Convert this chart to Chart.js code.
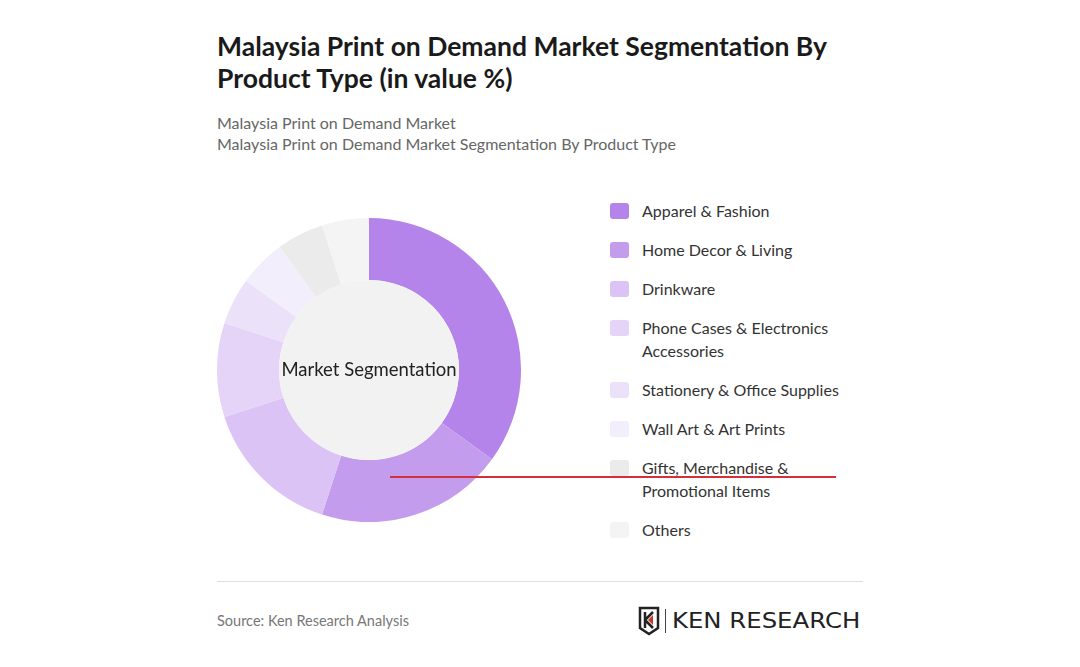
<!DOCTYPE html>
<html>
<head>
<meta charset="utf-8">
<script src="https://cdn.jsdelivr.net/npm/chart.js@4"></script>
<style>
  body { margin: 0; background: #fff; font-family: Lato, "Open Sans", sans-serif; }
  #page { position: relative; width: 1080px; height: 667px; overflow: hidden; }
  #titulo { position: absolute; left: 217px; top: 30px; width: 660px; font-size: 26.5px; font-weight: bold; line-height: 32px; color: #1a1a1a; }
  #sub { position: absolute; left: 217px; top: 112px; font-size: 16px; line-height: 21px; color: #666; }
  #donaBox { position: absolute; left: 217px; top: 218px; width: 304px; height: 304px; }
  #leyenda { position: absolute; left: 610px; top: 199px; }
  .item { display: flex; align-items: flex-start; margin-bottom: 16px; }
  .cuadro { width: 19px; height: 16px; border-radius: 3px; margin-top: 4px; margin-right: 13px; flex: none; }
  .txt { width: 225px; font-size: 16px; line-height: 23px; color: #333; }
  #sep { position: absolute; left: 217px; top: 581px; width: 646px; height: 1px; background: #ddd; }
  #fuente { position: absolute; left: 217px; top: 612px; font-size: 14.5px; color: #777; }
  #logo { position: absolute; left: 638px; top: 606px; display: flex; align-items: center; }
  #logo span { font-family: "DejaVu Sans", sans-serif; font-size: 21px; color: #222; display: inline-block; transform: scaleX(1.16); transform-origin: left center; }
  #rayita { position: absolute; left: 390px; top: 476px; width: 446px; height: 1.5px; background: #d3303c; }
</style>
</head>
<body>
<div id="page">
  <div id="titulo">Malaysia Print on Demand Market Segmentation By Product Type (in value %)</div>
  <div id="sub">Malaysia Print on Demand Market<br>Malaysia Print on Demand Market Segmentation By Product Type</div>
  <div id="donaBox"><canvas id="chartTipos" width="304" height="304"></canvas></div>
  <div id="leyenda"></div>
  <div id="sep"></div>
  <div id="fuente">Source: Ken Research Analysis</div>
  <div id="logo">
    <svg width="24" height="30" viewBox="0 0 24 30">
      <path d="M2 2 H20 V22 L11 28 L2 22 Z" fill="none" stroke="#222" stroke-width="2.5"/>
      <path d="M7 6 V22 M7 14 L15 6 M7 14 L15 22" stroke="#222" stroke-width="2.5" fill="none"/>
      <path d="M10 14 L15 9 V19 Z" fill="#c0392b"/>
    </svg>
    <div style="width:1px;height:24px;background:#444;margin:0 6px 0 3px"></div>
    <span>KEN RESEARCH</span>
  </div>
  <div id="rayita"></div>
</div>
<script>
  // datos del gráfico
  const categorias = ["Apparel & Fashion", "Home Decor & Living", "Drinkware", "Phone Cases & Electronics Accessories",
    "Stationery & Office Supplies", "Wall Art & Art Prints", "Gifts, Merchandise & Promotional Items", "Others"];
  const valores = [35, 20, 15, 10, 5, 5, 5, 5];
  const colores = ["#b584ea", "#c49cee", "#dbc3f6", "#e5d3f8", "#ebe2fa", "#f2eefb", "#ebebeb", "#f4f4f4"];

  // círculo central con texto
  const centro = {
    id: "centro",
    afterDatasetsDraw(chart) {
      const arc = chart.getDatasetMeta(0).data[0];
      const ctx = chart.ctx;
      ctx.save();
      ctx.beginPath();
      ctx.arc(arc.x, arc.y, arc.innerRadius, 0, Math.PI * 2);
      ctx.fillStyle = "#f2f2f2";
      ctx.fill();
      ctx.fillStyle = "#222";
      ctx.font = "18.5px Lato";
      ctx.textAlign = "center";
      ctx.textBaseline = "middle";
      ctx.fillText("Market Segmentation", arc.x, arc.y);
      ctx.restore();
    }
  };

  new Chart(document.getElementById("chartTipos"), {
    type: "doughnut",
    data: {
      labels: categorias,
      datasets: [{
        data: valores,
        backgroundColor: colores,
        borderWidth: 0
      }]
    },
    options: {
      responsive: false,
      animation: false,
      devicePixelRatio: 1,
      cutout: 90,
      plugins: { legend: { display: false }, tooltip: { enabled: false } }
    },
    plugins: [centro]
  });

  // leyenda
  const lista = document.getElementById("leyenda");
  categorias.forEach((c, i) => {
    const div = document.createElement("div");
    div.className = "item";
    div.innerHTML = `<div class="cuadro" style="background:${colores[i]}"></div><div class="txt"></div>`;
    div.querySelector(".txt").textContent = c;
    lista.appendChild(div);
  });
</script>
</body>
</html>
